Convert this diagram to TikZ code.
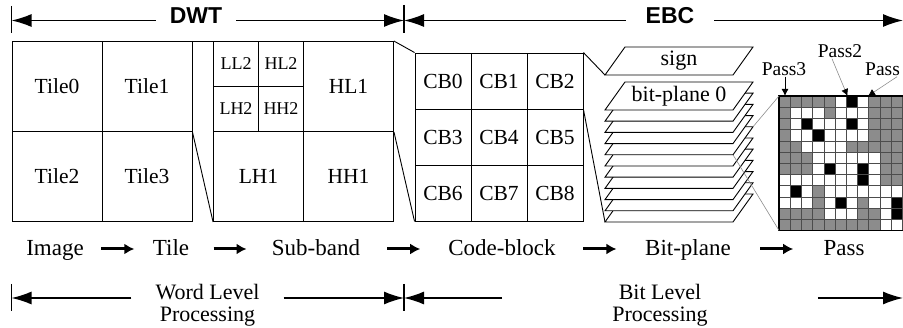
\documentclass[tikz,border=0pt]{standalone}
\usepackage{fontspec}
\setmainfont{Liberation Serif}
\newfontfamily\headfont{Liberation Sans}
\usetikzlibrary{arrows.meta,calc}

\colorlet{G}{black!45} % significant cells
\colorlet{W}{white}
\colorlet{B}{black}

\newcommand\DrawPlane[2]{% name, bottom edge of the plane
    \coordinate (#1-sw) at (605,#2);
    \coordinate (#1-se) at (733,#2);
    \coordinate (#1-ne) at (753,#2-28);
    \coordinate (#1-nw) at (625,#2-28);
    \draw[plane] (#1-sw) -- (#1-se) -- (#1-ne) -- (#1-nw) -- cycle;
}

\tikzset{%
    >={Latex[length=20pt,width=13pt]}, % big tips of the span arrows
    cell/.style={draw,line width=0.9pt,inner sep=0pt,
        minimum width=90pt,minimum height=90pt,font=\fontsize{21.5}{23}\selectfont},
    smallcell/.style={cell,minimum width=45pt,minimum height=45pt,
        font=\fontsize{18}{20}\selectfont},
    cbcell/.style={cell,minimum width=56pt,minimum height=56pt},
    plane/.style={draw,fill=white,line width=0.9pt},
    planelabel/.style={font=\fontsize{22}{24}\selectfont,inner sep=0pt},
    zoomline/.style={line width=0.9pt},
    greyline/.style={draw=black!45,line width=0.6pt},
    span/.style={line width=1.5pt,->},
    tick/.style={line width=1.5pt},
    head/.style={font=\headfont\bfseries\fontsize{23}{25}\selectfont,inner xsep=14pt},
    steplabel/.style={font=\fontsize{23}{25}\selectfont,inner xsep=0pt,anchor=base},
    levellabel/.style={font=\fontsize{22}{22.5}\selectfont,align=center},
    flow/.style={line width=3pt,-{Latex[length=10pt,width=11pt]}},
    passlabel/.style={font=\fontsize{19.5}{21}\selectfont,inner sep=1pt},
    passtip/.style={-{Latex[length=7pt,width=7pt,color=black]}}
}

\begin{document}
\begin{tikzpicture}[x=1pt,y=-1pt]

    \useasboundingbox (0,0) rectangle (903,328);

    %%%%%%%% image and its tiles
    \node[cell] (tile0) at (57,86.5) {Tile0};
    \node[cell] (tile1) at (147,86.5) {Tile1};
    \node[cell] (tile2) at (57,176.5) {Tile2};
    \node[cell] (tile3) at (147,176.5) {Tile3};

    %%%%%%%% sub-bands
    \node[smallcell] (LL2) at (236,64) {LL2};
    \node[smallcell] (HL2) at (281,64) {HL2};
    \node[smallcell] (LH2) at (236,109) {LH2};
    \node[smallcell] (HH2) at (281,109) {HH2};
    \node[cell] (HL1) at (348.5,86.5) {HL1};
    \node[cell] (LH1) at (258.5,176.5) {LH1};
    \node[cell] (HH1) at (348.5,176.5) {HH1};

    %%%%%%%% code-blocks
    \foreach \k in {0,...,8} {
        \pgfmathsetmacro\cx{443+56*mod(\k,3)}
        \pgfmathsetmacro\cy{81+56*floor(\k/3)}
        \node[cbcell] (CB\k) at (\cx,\cy) {CB\k};
    }

    %%%%%%%% bit-planes, drawn from the lowest one up
    \DrawPlane{sgn}{75}
    \foreach \k in {10,...,0} {
        \pgfmathsetmacro\yb{110+11.2*\k}
        \DrawPlane{bp\k}{\yb}
    }
    \node[planelabel] (sign) at ($(sgn-sw)!0.5!(sgn-ne)$) {sign};
    \node[planelabel] (bitplane0) at ($(bp0-sw)!0.5!(bp0-ne)$) {bit-plane 0};

    %%%%%%%% coding passes
    \def\gx{779} % left edge of the grid
    \def\gy{96} % top edge of the grid
    \def\gs{11.2} % cell size
    \foreach \rowcells [count=\r from 0] in {
        {G,G,G,G,G,W,B,W,G,G,G},
        {G,W,W,W,G,W,W,W,G,G,G},
        {G,W,B,W,W,W,B,W,G,G,G},
        {G,W,W,B,W,W,W,W,G,G,G},
        {G,G,W,W,W,W,G,G,G,G,G},
        {G,G,G,W,W,W,W,W,W,G,G},
        {G,G,G,W,B,W,W,B,W,G,G},
        {W,W,W,W,W,W,W,B,W,G,G},
        {W,B,W,G,W,W,W,W,W,W,W},
        {W,W,W,G,W,B,W,G,W,W,B},
        {G,G,G,G,W,W,W,G,G,W,B},
        {G,G,G,G,G,G,G,G,G,W,W}} {
        \foreach \cl [count=\q from 0] in \rowcells {
            \path[fill=\cl,draw=black!70,line width=0.5pt]
                (\gx+\q*\gs,\gy+\r*\gs) rectangle ++(\gs,\gs);
        }
    }
    \coordinate (grid-nw) at (\gx,\gy);
    \coordinate (grid-sw) at (\gx,\gy+12*\gs);
    \draw[line width=1.3pt] (903,\gy) -- (grid-nw) -- (grid-sw) -- (903,\gy+12*\gs);

    \node[passlabel] (pass3) at (784,69) {Pass3};
    \node[passlabel] (pass2) at (840,51) {Pass2};
    \node[passlabel,anchor=west] (pass1) at (864,69) {Pass};
    \coordinate (p3) at (785,96);
    \coordinate (p2) at (847.5,96);
    \coordinate (p1) at (868,96);
    \draw[passtip,line width=0.9pt] (pass3.south -| p3) -- (p3);
    \draw[passtip,greyline] ([xshift=-8pt]pass2.south) -- (p2);
    \draw[passtip,greyline] ([xshift=-4pt]pass1.south east) -- (p1);

    %%%%%%%% zoom lines
    \draw[zoomline] (tile1.north east) -- (LL2.north west);
    \draw[zoomline] (tile1.south east) -- (LH1.south west);
    \draw[zoomline] (HL1.north east) -- (CB0.north west);
    \draw[zoomline] (HL1.south east) -- (CB6.south west);
    \draw[zoomline] (CB2.north east) -- (sgn-sw);
    \draw[zoomline] (CB2.south east) -- (bp10-sw);
    \draw[greyline] (bp4-ne) -- (grid-nw);
    \draw[greyline] (bp4-se) -- (grid-sw);

    %%%%%%%% steps
    \node[steplabel] (image) at (55,256) {Image};
    \node[steplabel] (tile) at (171,256) {Tile};
    \node[steplabel] (subband) at (316,256) {Sub-band};
    \node[steplabel] (codeblock) at (502,256) {Code-block};
    \node[steplabel] (bitplane) at (688,256) {Bit-plane};
    \node[steplabel] (passstep) at (844,256) {Pass};
    \foreach \src/\dst in {image/tile,tile/subband,subband/codeblock,
            codeblock/bitplane,bitplane/passstep} {
        \path (\src.base east) -- coordinate[midway] (mid) (\dst.base west);
        \draw[flow] ([xshift=-17pt,yshift=7pt]mid) -- ([xshift=16pt,yshift=7pt]mid);
    }

    %%%%%%%% top spans
    \coordinate (tickTL) at (11.5,20.5);
    \coordinate (tickTM) at (404,20.5);
    \coordinate (tickTR) at (903,20.5);
    \draw[tick] (11.5,6) -- (11.5,33);
    \draw[tick] (404,5) -- (404,33);
    \node[head] (DWT) at (196,16) {DWT};
    \node[head,inner xsep=20pt] (EBC) at (670,16) {EBC};
    \draw[span] (DWT.west |- tickTL) -- (tickTL);
    \draw[span] (DWT.east |- tickTL) -- (tickTM);
    \draw[span] (EBC.west |- tickTL) -- (tickTM);
    \draw[span] (EBC.east |- tickTL) -- (tickTR);

    %%%%%%%% bottom spans
    \coordinate (tickBL) at (11.5,298);
    \coordinate (tickBM) at (404,298);
    \coordinate (tickBR) at (903,298);
    \draw[tick] (11.5,284) -- (11.5,311);
    \draw[tick] (404,284) -- (404,311);
    \node[levellabel,inner xsep=24pt] (word) at (207.5,305) {Word Level\\Processing};
    \node[levellabel,inner xsep=110pt] (bit) at (660,305) {Bit Level\\Processing};
    \draw[span] (word.west |- tickBL) -- (tickBL);
    \draw[span] (word.east |- tickBL) -- (tickBM);
    \draw[span] (bit.west |- tickBL) -- (tickBM);
    \draw[span] (bit.east |- tickBL) -- (tickBR);

\end{tikzpicture}
\end{document}
